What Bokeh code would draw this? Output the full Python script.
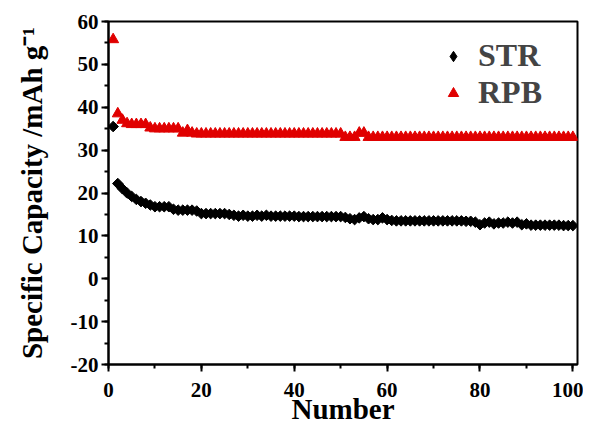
import math
from bokeh.plotting import figure
from bokeh.models import (Range1d, Legend, LegendItem, SingleIntervalTicker,
                          ColumnDataSource)
from bokeh.embed import file_html
from bokeh.resources import INLINE

cycles = list(range(1, 101))

str_capacity = [
    35.5, 22.2, 21.0, 20.0, 19.2, 18.5, 18.0, 17.6, 17.2, 16.8,
    16.8, 16.8, 16.8, 16.2, 16.0, 16.0, 16.0, 16.0, 15.8, 15.2,
    15.2, 15.2, 15.2, 15.2, 15.2, 15.0, 14.8, 14.6, 14.8, 14.6,
    14.6, 14.8, 14.6, 14.8, 14.6, 14.6, 14.6, 14.6, 14.6, 14.6,
    14.5, 14.5, 14.5, 14.5, 14.5, 14.5, 14.5, 14.5, 14.5, 14.5,
    14.3, 14.0, 13.8, 14.2, 14.5, 14.0, 13.8, 13.8, 14.2, 13.8,
    13.6, 13.5, 13.5, 13.5, 13.5, 13.5, 13.5, 13.5, 13.5, 13.5,
    13.5, 13.5, 13.5, 13.5, 13.5, 13.5, 13.4, 13.4, 13.2, 12.6,
    13.0, 13.2, 12.8, 13.0, 13.0, 13.2, 13.0, 13.2, 12.6, 12.8,
    12.5, 12.5, 12.5, 12.5, 12.5, 12.5, 12.5, 12.4, 12.4, 12.4,
]

rpb_capacity = [
    55.8, 38.5, 37.0, 36.2, 36.0, 36.0, 36.0, 36.0, 35.2, 35.0,
    35.0, 35.0, 35.0, 35.0, 35.0, 34.0, 34.6, 34.0, 33.8, 33.8,
    33.8, 33.8, 33.8, 33.8, 33.8, 33.8, 33.8, 33.8, 33.8, 33.8,
    33.8, 33.8, 33.8, 33.8, 33.8, 33.8, 33.8, 33.8, 33.8, 33.8,
    33.8, 33.8, 33.8, 33.8, 33.8, 33.8, 33.8, 33.8, 33.8, 33.8,
    33.0, 33.0, 33.0, 34.0, 34.0, 33.0, 33.0, 33.0, 33.0, 33.0,
    33.0, 33.0, 33.0, 33.0, 33.0, 33.0, 33.0, 33.0, 33.0, 33.0,
    33.0, 33.0, 33.0, 33.0, 33.0, 33.0, 33.0, 33.0, 33.0, 33.0,
    33.0, 33.0, 33.0, 33.0, 33.0, 33.0, 33.0, 33.0, 33.0, 33.0,
    33.0, 33.0, 33.0, 33.0, 33.0, 33.0, 33.0, 33.0, 33.0, 33.0,
]

series_names = ["STR", "RPB"]
y_tick_labels = {-20: "-20", -10: "-10"}

FONT = "Liberation Serif"
RED = "#e00000"

source = ColumnDataSource(dict(cycle=cycles, str_cap=str_capacity,
                               rpb_cap=rpb_capacity))

p = figure(
    width=583, height=427,
    x_range=Range1d(0, 101), y_range=Range1d(-20, 60),
    output_backend="svg", toolbar_location=None,
    min_border_left=108, min_border_right=6,
    min_border_top=21, min_border_bottom=60,
)
# off-screen range used only by the legend glyphs (their marks fall outside the frame)
p.extra_y_ranges = {"legend_only": Range1d(1000, 1100)}

p.grid.visible = False
p.outline_line_color = "black"
p.outline_line_width = 2

p.xaxis.ticker = SingleIntervalTicker(interval=20, num_minor_ticks=2)
p.yaxis.ticker = SingleIntervalTicker(interval=10, num_minor_ticks=2)
p.yaxis.major_label_overrides = y_tick_labels

for ax in (p.xaxis[0], p.yaxis[0]):
    ax.axis_line_width = 2
    ax.major_tick_line_width = 2
    ax.minor_tick_line_width = 2
    ax.major_tick_out = 7
    ax.major_tick_in = 0
    ax.minor_tick_out = 4
    ax.minor_tick_in = 0
    ax.major_label_text_font = FONT
    ax.major_label_text_font_style = "bold"
    ax.major_label_text_font_size = "21px"
    ax.major_label_text_color = "black"
    ax.axis_label_text_font = FONT
    ax.axis_label_text_font_style = "bold"
    ax.axis_label_text_font_size = "29px"
    ax.axis_label_text_color = "black"

p.xaxis.axis_label = "Number"
p.xaxis.axis_label_standoff = -7
p.xaxis.major_label_standoff = 11
p.yaxis.axis_label = "Specific Capacity /mAh g\u207b\u00b9"
p.yaxis.axis_label_standoff = 20
p.yaxis.major_label_standoff = 3

r_str = p.scatter("cycle", "str_cap", source=source, marker="square",
                  angle=math.pi / 4, size=7.5,
                  fill_color="black", line_color="black")
r_rpb = p.scatter("cycle", "rpb_cap", source=source, marker="triangle",
                  size=11, fill_color=RED, line_color=RED)

# legend-only glyphs: same data on the off-screen range
l_str = p.scatter("cycle", "str_cap", source=source, y_range_name="legend_only",
                  marker="diamond", fill_color="black", line_color="black")
l_rpb = p.scatter("cycle", "rpb_cap", source=source, y_range_name="legend_only",
                  marker="triangle", fill_color=RED, line_color=RED)

legend = Legend(items=[LegendItem(label=series_names[0], renderers=[l_str]),
                       LegendItem(label=series_names[1], renderers=[l_rpb])],
                location=(332, 253))
legend.border_line_color = None
legend.background_fill_alpha = 0
legend.label_text_font = FONT
legend.label_text_font_style = "bold"
legend.label_text_font_size = "32px"
legend.label_standoff = 12
legend.glyph_width = 26
legend.glyph_height = 26
legend.spacing = -4
p.add_layout(legend, "center")

open("out.html", "w").write(file_html(p, INLINE))
